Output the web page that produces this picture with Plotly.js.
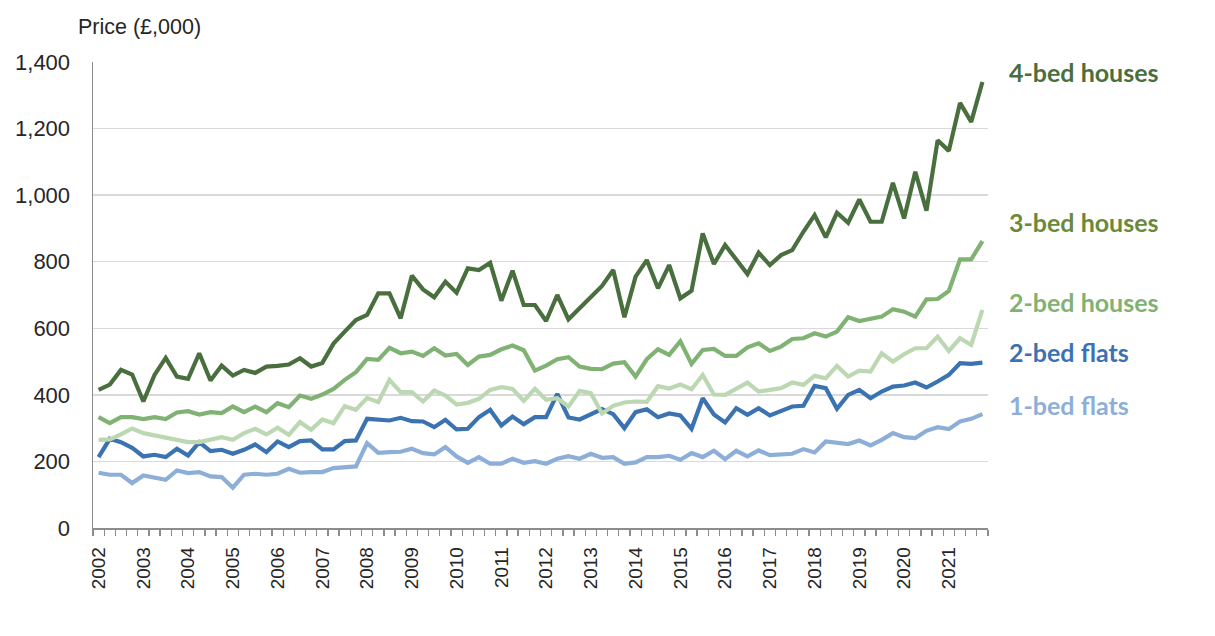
<!DOCTYPE html>
<html>
<head>
<meta charset="utf-8">
<script src="https://cdn.plot.ly/plotly-3.0.1.min.js"></script>
<style>
  html, body { margin: 0; padding: 0; background: #ffffff; }
  #chart { width: 1215px; height: 636px; }
</style>
</head>
<body>
<div id="chart"></div>
<script>
// Years shown on the axis (each year has four quarterly points, 2002 Q1 – 2021 Q4)
const years = [2002, 2003, 2004, 2005, 2006, 2007, 2008, 2009, 2010, 2011,
               2012, 2013, 2014, 2015, 2016, 2017, 2018, 2019, 2020, 2021];

// Quarterly prices, £ thousands
const bed4Houses = [
  415, 431, 475, 461, 380, 460, 511, 455, 448, 525, 443, 488, 458, 475, 466, 485,
  487, 491, 510, 485, 496, 554, 590, 625, 640, 705, 705, 630, 758, 717, 693, 740,
  707, 780, 775, 797, 683, 773, 670, 670, 622, 700, 627, 660, 697, 727, 775, 633,
  755, 805, 720, 790, 690, 713, 885, 793, 850, 807, 763, 827, 790, 820, 835, 890,
  940, 873, 947, 917, 987, 920, 920, 1037, 930, 1070, 953, 1165, 1133, 1277, 1220, 1340
];
const bed3Houses = [
  333, 315, 333, 333, 327, 333, 327, 347, 351, 341, 348, 345, 365, 348, 365, 348,
  375, 363, 398, 388, 401, 418, 445, 468, 508, 505, 541, 525, 530, 517, 540, 518,
  523, 490, 515, 520, 537, 548, 534, 473, 488, 507, 513, 485, 478, 477, 494, 498,
  455, 507, 537, 520, 561, 493, 535, 538, 517, 517, 543, 555, 532, 545, 568, 570,
  585, 575, 590, 633, 622, 628, 635, 657, 650, 635, 687, 688, 712, 807, 807, 862
];
const bed2Houses = [
  265, 266, 281, 299, 285, 278, 271, 266, 258, 258, 265, 273, 265, 285, 298, 281,
  301, 280, 318, 295, 326, 315, 366, 355, 391, 378, 445, 408, 408, 380, 413, 398,
  371, 376, 388, 415, 423, 418, 382, 418, 385, 390, 365, 412, 405, 344, 367, 377,
  380, 379, 426, 419, 431, 417, 460, 401, 400, 420, 437, 410, 415, 420, 437, 430,
  457, 450, 487, 455, 473, 470, 525, 500, 522, 540, 540, 575, 532, 570, 550, 655
];
const bed2Flats = [
  213, 268, 258, 241, 215, 220, 213, 238, 218, 258, 231, 235, 223, 235, 251, 228,
  260, 243, 261, 263, 236, 236, 261, 263, 328, 325, 323, 331, 321, 320, 303, 325,
  296, 298, 333, 355, 308, 335, 312, 333, 333, 403, 332, 326, 342, 357, 342, 300,
  348, 357, 333, 344, 338, 298, 390, 341, 317, 360, 340, 360, 338, 350, 365, 367,
  427, 420, 358, 400, 415, 390, 410, 425, 428, 437, 422, 440, 460, 495, 493, 497
];
const bed1Flats = [
  166, 160, 160, 135, 158, 151, 145, 173, 165, 168, 155, 153, 121, 160, 163, 160,
  163, 178, 166, 168, 168, 180, 183, 185, 255, 226, 228, 229, 238, 225, 221, 243,
  215, 196, 213, 193, 193, 208, 196, 201, 193, 208, 216, 208, 223, 211, 213, 193,
  197, 213, 213, 217, 205, 225, 213, 232, 207, 232, 215, 233, 219, 222, 223, 237,
  227, 260, 257, 252, 263, 248, 265, 285, 273, 270, 292, 303, 297, 320, 328, 342
];

const seriesNames = ['4-bed houses', '3-bed houses', '2-bed houses', '2-bed flats', '1-bed flats'];
const seriesValues = [bed4Houses, bed3Houses, bed2Houses, bed2Flats, bed1Flats];
const lineColors = ['#4a6f3f', '#80b273', '#bcd8b2', '#3b73b1', '#8caed8'];
const labelColors = ['#4a6f3f', '#6a8a3a', '#80b273', '#3b73b1', '#8caed8'];
const labelLevels = [1370, 919, 679, 529, 369];

// quarter position index (category slots)
const quarterIdx = bed4Houses.map((_, i) => i);
const yearTickPos = years.map((_, k) => k * 4);

// draw order: back to front
const order = [4, 3, 2, 1, 0];
const traces = order.map(k => ({
  type: 'scatter',
  mode: 'lines',
  name: seriesNames[k],
  x: quarterIdx,
  y: seriesValues[k],
  line: { color: lineColors[k], width: 4.2, shape: 'linear' },
  hoverinfo: 'skip'
}));

const annotations = seriesNames.map((name, k) => ({
  text: '<b>' + name + '</b>',
  xref: 'paper', yref: 'y',
  x: 1.021, y: labelLevels[k],
  xanchor: 'left', yanchor: 'middle',
  showarrow: false,
  font: { family: 'Lato, "Open Sans", sans-serif', size: 25, color: labelColors[k] }
}));
annotations.push({
  text: 'Price (£,000)',
  xref: 'paper', yref: 'paper',
  x: -0.019, y: 1.075,
  xanchor: 'left', yanchor: 'middle',
  showarrow: false,
  font: { family: '"Liberation Sans", Arial, sans-serif', size: 21.5, color: '#262626' }
});

const layout = {
  width: 1215, height: 636,
  margin: { l: 93, r: 227, t: 62, b: 108, pad: 0 },
  paper_bgcolor: '#ffffff',
  plot_bgcolor: '#ffffff',
  showlegend: false,
  font: { family: '"Liberation Sans", Arial, sans-serif', size: 20, color: '#262626' },
  xaxis: {
    range: [-0.5, 79.5],
    tickmode: 'array',
    tickvals: yearTickPos,
    ticktext: years.map(String),
    tickangle: -90,
    ticks: '',
    ticklabelstandoff: 10,
    tickfont: { size: 19, color: '#262626' },
    showgrid: false,
    zeroline: false,
    showline: true,
    linecolor: '#8c8c8c',
    linewidth: 1.5,
    minor: { ticks: 'outside', tick0: -0.5, dtick: 1, ticklen: 6, tickcolor: '#8c8c8c', tickwidth: 1.3, showgrid: false },
    fixedrange: true
  },
  yaxis: {
    range: [0, 1400],
    tickmode: 'linear',
    tick0: 0, dtick: 200,
    tickformat: ',d',
    ticks: '',
    ticklabelstandoff: 17,
    tickfont: { size: 22, color: '#262626' },
    showgrid: true,
    gridcolor: '#d9d9d9',
    gridwidth: 1.5,
    zeroline: false,
    showline: true,
    linecolor: '#8c8c8c',
    linewidth: 1.5,
    fixedrange: true
  },
  annotations: annotations
};

Plotly.newPlot('chart', traces, layout, { displayModeBar: false, staticPlot: true });
</script>
</body>
</html>
